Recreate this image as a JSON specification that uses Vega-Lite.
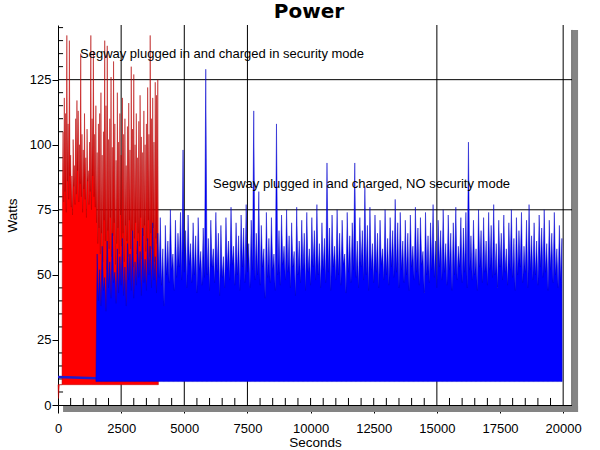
{
  "$schema": "https://vega.github.io/schema/vega-lite/v6.json",
  "width": 514,
  "height": 380,
  "autosize": "none",
  "padding": {"left": 58, "top": 25, "right": 28, "bottom": 45},
  "background": "white",
  "title": {"text": "Power", "font": "DejaVu Sans", "fontSize": 20, "fontWeight": "bold", "color": "black", "anchor": "middle", "offset": 3, "dx": -6},
  "config": {
    "view": {"stroke": null},
    "axis": {"grid": false, "domainColor": "black", "tickColor": "black", "labelColor": "black", "titleColor": "black", "labelFont": "Liberation Sans", "titleFont": "Liberation Sans", "labelFontSize": 13, "titleFontSize": 13.5, "titleFontWeight": "normal", "domainWidth": 1, "tickWidth": 1}
  },
  "datasets": {
    "gx": [{"s": 2500, "w": 0, "w2": 146}, {"s": 5000, "w": 0, "w2": 146}, {"s": 7500, "w": 0, "w2": 146}, {"s": 15000, "w": 0, "w2": 146}, {"s": 20000, "w": 0, "w2": 146}, {"s": 20350, "w": 0, "w2": 144.1}],
    "gy": [{"s": 0, "s2": 20350, "w": 75}, {"s": 0, "s2": 20350, "w": 125}],
    "shadow": [{"s": 20390, "s2": 20590, "w": 144.1, "w2": -2.7}, {"s": 200, "s2": 20590, "w": -0.4, "w2": -2.7}],
    "minorx": [
      {"s":500,"w":0},{"s":1000,"w":0},{"s":1500,"w":0},{"s":2000,"w":0},{"s":3000,"w":0},{"s":3500,"w":0},{"s":4000,"w":0},{"s":4500,"w":0},
      {"s":5500,"w":0},{"s":6000,"w":0},{"s":6500,"w":0},{"s":7000,"w":0},{"s":8000,"w":0},{"s":8500,"w":0},{"s":9000,"w":0},{"s":9500,"w":0},
      {"s":10000,"w":0},{"s":10500,"w":0},{"s":11000,"w":0},{"s":11500,"w":0},{"s":12000,"w":0},{"s":12500,"w":0},{"s":13000,"w":0},{"s":13500,"w":0},{"s":14000,"w":0},{"s":14500,"w":0},
      {"s":15500,"w":0},{"s":16000,"w":0},{"s":16500,"w":0},{"s":17000,"w":0},{"s":17500,"w":0},{"s":18000,"w":0},{"s":18500,"w":0},{"s":19000,"w":0},{"s":19500,"w":0}
    ],
    "minory": [
      {"s":0,"w":5},{"s":0,"w":10},{"s":0,"w":15},{"s":0,"w":20},{"s":0,"w":30},{"s":0,"w":35},{"s":0,"w":40},{"s":0,"w":45},
      {"s":0,"w":55},{"s":0,"w":60},{"s":0,"w":65},{"s":0,"w":70},{"s":0,"w":80},{"s":0,"w":85},{"s":0,"w":90},{"s":0,"w":95},
      {"s":0,"w":105},{"s":0,"w":110},{"s":0,"w":115},{"s":0,"w":120},{"s":0,"w":130},{"s":0,"w":135},{"s":0,"w":140},{"s":0,"w":145}
    ],
    "notes": [
      {"s": 871, "w": 133.5, "t": "Segway plugged in and charged in security mode"},
      {"s": 6140, "w": 83.5, "t": "Segway plugged in and charged, NO security mode"}
    ],
    "flat": [{"s": 0, "w": 10.8}, {"s": 1500, "w": 10.3}],
    "red": [
      {"s":0,"w":7.8},{"s":20,"w":2.5},{"s":50,"w":7.8},{"s":160,"w":7.8},{"s":175,"w":80},
      {"s":200,"w":105},{"s":225,"w":78},{"s":250,"w":118},{"s":275,"w":82},{"s":300,"w":112},{"s":325,"w":74},
      {"s":350,"w":142},{"s":375,"w":86},{"s":400,"w":108},{"s":425,"w":79},{"s":450,"w":140},{"s":475,"w":88},
      {"s":500,"w":96},{"s":525,"w":76},{"s":550,"w":88},{"s":575,"w":73},{"s":600,"w":102},{"s":625,"w":84},
      {"s":650,"w":92},{"s":675,"w":77},{"s":700,"w":110},{"s":725,"w":81},{"s":750,"w":117},{"s":775,"w":90},
      {"s":800,"w":113},{"s":825,"w":78},{"s":850,"w":100},{"s":875,"w":85},{"s":900,"w":135},{"s":925,"w":80},
      {"s":950,"w":104},{"s":975,"w":74},{"s":1000,"w":98},{"s":1025,"w":83},{"s":1050,"w":112},{"s":1075,"w":79},
      {"s":1100,"w":95},{"s":1125,"w":72},{"s":1150,"w":106},{"s":1175,"w":86},{"s":1200,"w":90},{"s":1225,"w":77},
      {"s":1250,"w":101},{"s":1275,"w":82},{"s":1300,"w":142},{"s":1325,"w":75},{"s":1350,"w":110},{"s":1375,"w":88},
      {"s":1400,"w":136},{"s":1425,"w":80},{"s":1450,"w":104},{"s":1475,"w":76},{"s":1500,"w":115},{"s":1525,"w":70},
      {"s":1550,"w":97},{"s":1575,"w":62},{"s":1600,"w":108},{"s":1625,"w":68},{"s":1650,"w":112},{"s":1675,"w":58},
      {"s":1700,"w":120},{"s":1725,"w":66},{"s":1750,"w":96},{"s":1775,"w":55},{"s":1800,"w":105},{"s":1825,"w":71},
      {"s":1850,"w":140},{"s":1875,"w":63},{"s":1900,"w":115},{"s":1925,"w":52},{"s":1950,"w":138},{"s":1975,"w":67},
      {"s":2000,"w":102},{"s":2025,"w":60},{"s":2050,"w":110},{"s":2075,"w":72},{"s":2100,"w":126},{"s":2125,"w":57},
      {"s":2150,"w":99},{"s":2175,"w":65},{"s":2200,"w":132},{"s":2225,"w":70},{"s":2250,"w":108},{"s":2275,"w":54},
      {"s":2300,"w":94},{"s":2325,"w":62},{"s":2350,"w":120},{"s":2375,"w":68},{"s":2400,"w":101},{"s":2425,"w":58},
      {"s":2450,"w":112},{"s":2475,"w":73},{"s":2500,"w":96},{"s":2525,"w":61},{"s":2550,"w":118},{"s":2575,"w":66},
      {"s":2600,"w":104},{"s":2625,"w":55},{"s":2650,"w":110},{"s":2675,"w":69},{"s":2700,"w":92},{"s":2725,"w":63},
      {"s":2750,"w":107},{"s":2775,"w":57},{"s":2800,"w":116},{"s":2825,"w":71},{"s":2850,"w":98},{"s":2875,"w":60},
      {"s":2900,"w":130},{"s":2925,"w":67},{"s":2950,"w":106},{"s":2975,"w":53},{"s":3000,"w":127},{"s":3025,"w":64},
      {"s":3050,"w":100},{"s":3075,"w":70},{"s":3100,"w":112},{"s":3125,"w":58},{"s":3150,"w":95},{"s":3175,"w":66},
      {"s":3200,"w":109},{"s":3225,"w":61},{"s":3250,"w":119},{"s":3275,"w":72},{"s":3300,"w":103},{"s":3325,"w":56},
      {"s":3350,"w":97},{"s":3375,"w":65},{"s":3400,"w":113},{"s":3425,"w":69},{"s":3450,"w":100},{"s":3475,"w":59},
      {"s":3500,"w":108},{"s":3525,"w":63},{"s":3550,"w":122},{"s":3575,"w":71},{"s":3600,"w":104},{"s":3625,"w":57},
      {"s":3650,"w":142},{"s":3675,"w":66},{"s":3700,"w":110},{"s":3725,"w":60},{"s":3750,"w":118},{"s":3775,"w":68},
      {"s":3800,"w":101},{"s":3825,"w":55},{"s":3850,"w":124},{"s":3875,"w":64},{"s":3900,"w":119},{"s":3925,"w":62},
      {"s":3950,"w":125},{"s":3970,"w":60},{"s":3975,"w":7.8}
    ],
    "blue": [
      {"s":1500,"w":9},
      {"s":1550,"w":58},{"s":1600,"w":40},{"s":1650,"w":52},{"s":1700,"w":38},{"s":1750,"w":61},{"s":1800,"w":44},
      {"s":1850,"w":49},{"s":1900,"w":36},{"s":1950,"w":63},{"s":2000,"w":45},{"s":2050,"w":55},{"s":2100,"w":41},
      {"s":2150,"w":66},{"s":2200,"w":47},{"s":2250,"w":51},{"s":2300,"w":39},{"s":2350,"w":60},{"s":2400,"w":43},
      {"s":2450,"w":57},{"s":2500,"w":46},{"s":2550,"w":64},{"s":2600,"w":42},{"s":2650,"w":53},{"s":2700,"w":38},
      {"s":2750,"w":62},{"s":2800,"w":48},{"s":2850,"w":58},{"s":2900,"w":44},{"s":2950,"w":67},{"s":3000,"w":41},
      {"s":3050,"w":55},{"s":3100,"w":46},{"s":3150,"w":63},{"s":3200,"w":49},{"s":3250,"w":59},{"s":3300,"w":42},
      {"s":3350,"w":68},{"s":3400,"w":47},{"s":3450,"w":56},{"s":3500,"w":44},{"s":3550,"w":64},{"s":3600,"w":50},
      {"s":3650,"w":61},{"s":3700,"w":45},{"s":3750,"w":70},{"s":3800,"w":48},{"s":3850,"w":57},{"s":3900,"w":43},
      {"s":3950,"w":66},{"s":4000,"w":49},{"s":4050,"w":72},{"s":4100,"w":46},{"s":4150,"w":60},{"s":4200,"w":38},
      {"s":4250,"w":69},{"s":4300,"w":50},{"s":4350,"w":63},{"s":4400,"w":47},{"s":4450,"w":75},{"s":4500,"w":52},
      {"s":4550,"w":58},{"s":4600,"w":44},{"s":4650,"w":71},{"s":4700,"w":49},{"s":4750,"w":66},{"s":4800,"w":53},
      {"s":4850,"w":74},{"s":4900,"w":48},{"s":4950,"w":98},{"s":5000,"w":51},{"s":5050,"w":67},{"s":5100,"w":45},
      {"s":5150,"w":73},{"s":5200,"w":54},{"s":5250,"w":62},{"s":5300,"w":47},{"s":5350,"w":70},{"s":5400,"w":50},
      {"s":5450,"w":65},{"s":5500,"w":43},{"s":5550,"w":72},{"s":5600,"w":52},{"s":5650,"w":59},{"s":5700,"w":46},
      {"s":5750,"w":68},{"s":5800,"w":49},{"s":5850,"w":129},{"s":5900,"w":50},{"s":5950,"w":64},{"s":6000,"w":44},
      {"s":6050,"w":71},{"s":6100,"w":53},{"s":6150,"w":60},{"s":6200,"w":47},{"s":6250,"w":74},{"s":6300,"w":51},
      {"s":6350,"w":66},{"s":6400,"w":42},{"s":6450,"w":69},{"s":6500,"w":49},{"s":6550,"w":57},{"s":6600,"w":45},
      {"s":6650,"w":72},{"s":6700,"w":52},{"s":6750,"w":63},{"s":6800,"w":48},{"s":6850,"w":76},{"s":6900,"w":54},
      {"s":6950,"w":61},{"s":7000,"w":46},{"s":7050,"w":70},{"s":7100,"w":50},{"s":7150,"w":65},{"s":7200,"w":44},
      {"s":7250,"w":73},{"s":7300,"w":53},{"s":7350,"w":68},{"s":7400,"w":47},{"s":7450,"w":77},{"s":7500,"w":51},
      {"s":7550,"w":62},{"s":7600,"w":45},{"s":7650,"w":71},{"s":7700,"w":52},{"s":7750,"w":113},{"s":7800,"w":48},
      {"s":7850,"w":66},{"s":7900,"w":50},{"s":7950,"w":82},{"s":8000,"w":46},{"s":8050,"w":69},{"s":8100,"w":53},
      {"s":8150,"w":60},{"s":8200,"w":41},{"s":8250,"w":74},{"s":8300,"w":49},{"s":8350,"w":64},{"s":8400,"w":47},
      {"s":8450,"w":72},{"s":8500,"w":52},{"s":8550,"w":58},{"s":8600,"w":44},{"s":8650,"w":108},{"s":8700,"w":50},
      {"s":8750,"w":67},{"s":8800,"w":46},{"s":8850,"w":73},{"s":8900,"w":54},{"s":8950,"w":61},{"s":9000,"w":48},
      {"s":9050,"w":75},{"s":9100,"w":51},{"s":9150,"w":65},{"s":9200,"w":45},{"s":9250,"w":70},{"s":9300,"w":53},
      {"s":9350,"w":59},{"s":9400,"w":42},{"s":9450,"w":76},{"s":9500,"w":50},{"s":9550,"w":63},{"s":9600,"w":47},
      {"s":9650,"w":71},{"s":9700,"w":52},{"s":9750,"w":66},{"s":9800,"w":44},{"s":9850,"w":74},{"s":9900,"w":51},
      {"s":9950,"w":60},{"s":10000,"w":46},{"s":10050,"w":72},{"s":10100,"w":53},{"s":10150,"w":67},{"s":10200,"w":48},
      {"s":10250,"w":77},{"s":10300,"w":50},{"s":10350,"w":62},{"s":10400,"w":45},{"s":10450,"w":70},{"s":10500,"w":52},
      {"s":10550,"w":64},{"s":10600,"w":47},{"s":10650,"w":93},{"s":10700,"w":51},{"s":10750,"w":68},{"s":10800,"w":44},
      {"s":10850,"w":73},{"s":10900,"w":53},{"s":10950,"w":61},{"s":11000,"w":48},{"s":11050,"w":75},{"s":11100,"w":50},
      {"s":11150,"w":66},{"s":11200,"w":46},{"s":11250,"w":71},{"s":11300,"w":54},{"s":11350,"w":58},{"s":11400,"w":43},
      {"s":11450,"w":74},{"s":11500,"w":51},{"s":11550,"w":65},{"s":11600,"w":47},{"s":11650,"w":70},{"s":11700,"w":52},
      {"s":11750,"w":93},{"s":11800,"w":49},{"s":11850,"w":63},{"s":11900,"w":45},{"s":11950,"w":72},{"s":12000,"w":53},
      {"s":12050,"w":67},{"s":12100,"w":48},{"s":12150,"w":84},{"s":12200,"w":50},{"s":12250,"w":69},{"s":12300,"w":44},
      {"s":12350,"w":76},{"s":12400,"w":52},{"s":12450,"w":62},{"s":12500,"w":47},{"s":12550,"w":73},{"s":12600,"w":51},
      {"s":12650,"w":66},{"s":12700,"w":45},{"s":12750,"w":71},{"s":12800,"w":54},{"s":12850,"w":60},{"s":12900,"w":48},
      {"s":12950,"w":75},{"s":13000,"w":50},{"s":13050,"w":64},{"s":13100,"w":46},{"s":13150,"w":72},{"s":13200,"w":53},
      {"s":13250,"w":67},{"s":13300,"w":49},{"s":13350,"w":79},{"s":13400,"w":51},{"s":13450,"w":70},{"s":13500,"w":45},
      {"s":13550,"w":74},{"s":13600,"w":52},{"s":13650,"w":63},{"s":13700,"w":47},{"s":13750,"w":71},{"s":13800,"w":50},
      {"s":13850,"w":66},{"s":13900,"w":44},{"s":13950,"w":73},{"s":14000,"w":53},{"s":14050,"w":61},{"s":14100,"w":48},
      {"s":14150,"w":76},{"s":14200,"w":51},{"s":14250,"w":68},{"s":14300,"w":46},{"s":14350,"w":72},{"s":14400,"w":54},
      {"s":14450,"w":59},{"s":14500,"w":43},{"s":14550,"w":74},{"s":14600,"w":50},{"s":14650,"w":65},{"s":14700,"w":47},
      {"s":14750,"w":70},{"s":14800,"w":52},{"s":14850,"w":77},{"s":14900,"w":49},{"s":14950,"w":63},{"s":15000,"w":45},
      {"s":15050,"w":71},{"s":15100,"w":53},{"s":15150,"w":67},{"s":15200,"w":48},{"s":15250,"w":75},{"s":15300,"w":51},
      {"s":15350,"w":62},{"s":15400,"w":46},{"s":15450,"w":73},{"s":15500,"w":52},{"s":15550,"w":66},{"s":15600,"w":44},
      {"s":15650,"w":70},{"s":15700,"w":50},{"s":15750,"w":76},{"s":15800,"w":48},{"s":15850,"w":61},{"s":15900,"w":53},
      {"s":15950,"w":72},{"s":16000,"w":47},{"s":16050,"w":68},{"s":16100,"w":51},{"s":16150,"w":74},{"s":16200,"w":45},
      {"s":16250,"w":101},{"s":16300,"w":52},{"s":16350,"w":65},{"s":16400,"w":48},{"s":16450,"w":71},{"s":16500,"w":50},
      {"s":16550,"w":60},{"s":16600,"w":44},{"s":16650,"w":75},{"s":16700,"w":53},{"s":16750,"w":67},{"s":16800,"w":47},
      {"s":16850,"w":72},{"s":16900,"w":51},{"s":16950,"w":63},{"s":17000,"w":46},{"s":17050,"w":74},{"s":17100,"w":52},
      {"s":17150,"w":69},{"s":17200,"w":49},{"s":17250,"w":77},{"s":17300,"w":50},{"s":17350,"w":62},{"s":17400,"w":45},
      {"s":17450,"w":71},{"s":17500,"w":53},{"s":17550,"w":66},{"s":17600,"w":48},{"s":17650,"w":73},{"s":17700,"w":51},
      {"s":17750,"w":60},{"s":17800,"w":46},{"s":17850,"w":70},{"s":17900,"w":52},{"s":17950,"w":75},{"s":18000,"w":49},
      {"s":18050,"w":64},{"s":18100,"w":44},{"s":18150,"w":72},{"s":18200,"w":50},{"s":18250,"w":67},{"s":18300,"w":53},
      {"s":18350,"w":74},{"s":18400,"w":47},{"s":18450,"w":61},{"s":18500,"w":51},{"s":18550,"w":71},{"s":18600,"w":45},
      {"s":18650,"w":77},{"s":18700,"w":52},{"s":18750,"w":65},{"s":18800,"w":48},{"s":18850,"w":70},{"s":18900,"w":50},
      {"s":18950,"w":63},{"s":19000,"w":46},{"s":19050,"w":73},{"s":19100,"w":53},{"s":19150,"w":68},{"s":19200,"w":49},
      {"s":19250,"w":75},{"s":19300,"w":51},{"s":19350,"w":62},{"s":19400,"w":44},{"s":19450,"w":71},{"s":19500,"w":52},
      {"s":19550,"w":66},{"s":19600,"w":47},{"s":19650,"w":74},{"s":19700,"w":50},{"s":19750,"w":60},{"s":19800,"w":45},
      {"s":19850,"w":69},{"s":19900,"w":48},{"s":19950,"w":64},{"s":19960,"w":9}
    ]
  },
  "encoding": {
    "x": {
      "field": "s", "type": "quantitative",
      "scale": {"domain": [0, 20350], "nice": false, "zero": false},
      "axis": {
        "title": "Seconds", "titlePadding": 0, "format": "d",
        "values": [0,2500,5000,7500,10000,12500,15000,17500,20000],
        "tickSize": 8,
        "labelPadding": 9,
        "labelFlush": false
      }
    },
    "y": {
      "field": "w", "type": "quantitative",
      "scale": {"domain": [0, 146], "nice": false, "zero": false},
      "axis": {
        "title": "Watts", "titlePadding": 10,
        "values": [0,25,50,75,100,125],
        "tickSize": 6,
        "labelPadding": 1,
        "labelFlush": false
      }
    }
  },
  "layer": [
    {
      "data": {"name": "gx"},
      "mark": {"type": "rule", "color": "black", "strokeWidth": 1},
      "encoding": {"y2": {"field": "w2"}}
    },
    {
      "data": {"name": "gy"},
      "mark": {"type": "rule", "color": "black", "strokeWidth": 1},
      "encoding": {"x2": {"field": "s2"}}
    },
    {
      "data": {"name": "minorx"},
      "mark": {"type": "rule", "color": "black", "strokeWidth": 1},
      "encoding": {"y2": {"datum": 2.7}}
    },
    {
      "data": {"name": "minory"},
      "mark": {"type": "rule", "color": "black", "strokeWidth": 1},
      "encoding": {"x2": {"datum": 200}}
    },
    {
      "data": {"name": "shadow"},
      "mark": {"type": "rect", "color": "#848484"},
      "encoding": {"x2": {"field": "s2"}, "y2": {"field": "w2"}}
    },
    {
      "data": {"name": "red"},
      "mark": {"type": "area", "color": "#ff0000", "stroke": "#b00000", "strokeWidth": 0.5, "interpolate": "linear"},
      "encoding": {"y2": {"datum": 7.8}}
    },
    {
      "data": {"name": "flat"},
      "mark": {"type": "line", "color": "#1c1cd0", "strokeWidth": 2.5},
      "encoding": {}
    },
    {
      "data": {"name": "blue"},
      "mark": {"type": "area", "color": "#0000ff", "stroke": "#0000c8", "strokeWidth": 0.5, "interpolate": "linear"},
      "encoding": {"y2": {"datum": 9}}
    },
    {
      "data": {"name": "notes"},
      "mark": {"type": "text", "align": "left", "baseline": "alphabetic", "font": "Liberation Sans", "fontSize": 13, "color": "black"},
      "encoding": {"text": {"field": "t"}}
    }
  ]
}
